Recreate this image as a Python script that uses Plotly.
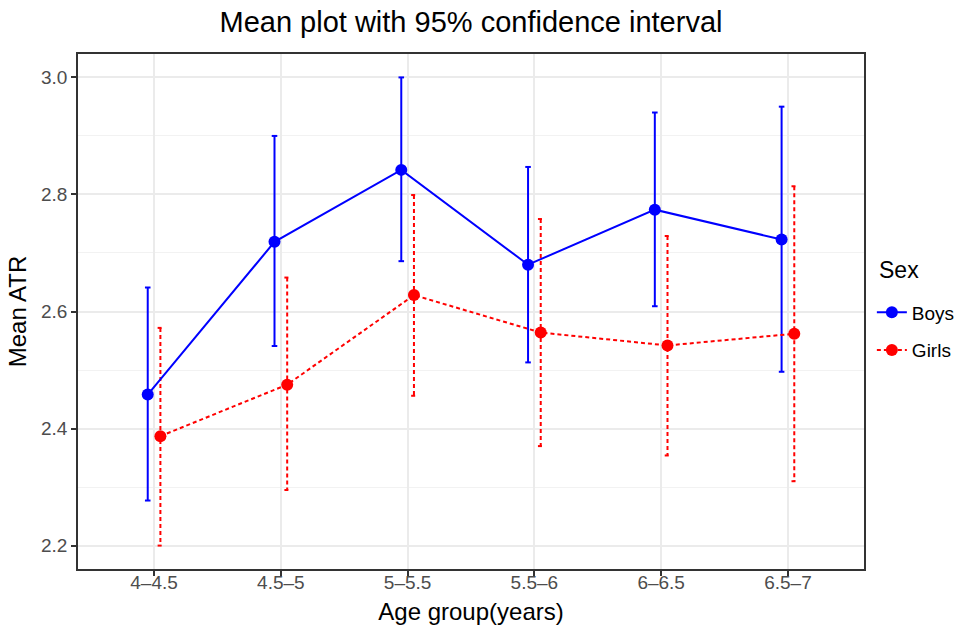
import plotly.graph_objects as go

# Age groups and per-group means with 95% confidence limits
age_groups = ["4–4.5", "4.5–5", "5–5.5", "5.5–6", "6–6.5", "6.5–7"]

boys_mean = [2.458, 2.719, 2.842, 2.680, 2.774, 2.723]
boys_lower = [2.277, 2.541, 2.686, 2.513, 2.609, 2.497]
boys_upper = [2.641, 2.900, 3.000, 2.847, 2.940, 2.950]

girls_mean = [2.387, 2.475, 2.628, 2.564, 2.542, 2.562]
girls_lower = [2.200, 2.295, 2.456, 2.370, 2.354, 2.310]
girls_upper = [2.572, 2.658, 2.799, 2.758, 2.729, 2.814]

FONT = "Liberation Sans, Arial, sans-serif"
BLUE = "#0000FF"
RED = "#FF0000"
DODGE = 0.05     # horizontal offset of each sex within a group
CAP = 0.022      # half-width of the error bar caps (x units)

pos = list(range(len(age_groups)))
boys_x = [p - DODGE for p in pos]
girls_x = [p + DODGE for p in pos]


def interval_segments(xs, lo, hi):
    """Vertical CI lines plus caps, separated by None gaps."""
    sx, sy = [], []
    for x, a, b in zip(xs, lo, hi):
        sx += [x - CAP, x + CAP, None, x, x, None, x - CAP, x + CAP, None]
        sy += [b, b, None, b, a, None, a, a, None]
    return sx, sy


fig = go.Figure()

# confidence intervals
bx, by = interval_segments(boys_x, boys_lower, boys_upper)
fig.add_trace(go.Scatter(x=bx, y=by, mode="lines", showlegend=False,
                         hoverinfo="skip",
                         line=dict(color=BLUE, width=2)))
gx, gy = interval_segments(girls_x, girls_lower, girls_upper)
fig.add_trace(go.Scatter(x=gx, y=gy, mode="lines", showlegend=False,
                         hoverinfo="skip",
                         line=dict(color=RED, width=2, dash="4px,3px")))

# mean lines and points
fig.add_trace(go.Scatter(x=boys_x, y=boys_mean, mode="lines+markers",
                         name="Boys", legendgroup="boys",
                         line=dict(color=BLUE, width=2),
                         marker=dict(color=BLUE, size=12)))
fig.add_trace(go.Scatter(x=girls_x, y=girls_mean, mode="lines+markers",
                         name="Girls", legendgroup="girls",
                         line=dict(color=RED, width=2, dash="4px,3px"),
                         marker=dict(color=RED, size=12)))

lo = min(boys_lower + girls_lower)
hi = max(boys_upper + girls_upper)
pad = 0.05 * (hi - lo)

fig.update_layout(
    width=972, height=627,
    margin=dict(l=78, r=106, t=54, b=58),
    paper_bgcolor="white", plot_bgcolor="white",
    font=dict(family=FONT, color="black"),
    title=dict(text="Mean plot with 95% confidence interval",
               x=0.5, xref="paper", xanchor="center",
               y=1 - 22 / 627, yref="container", yanchor="middle",
               font=dict(size=29, color="black", family=FONT)),
    legend=dict(font=dict(size=19, family=FONT),
                x=1.01, xanchor="left", y=0.535, yanchor="top",
                tracegroupgap=10, itemwidth=30,
                bgcolor="rgba(0,0,0,0)"),
    showlegend=True,
    annotations=[dict(text="Sex", xref="paper", yref="paper",
                      x=1.0165, y=(569 - 270) / 515,
                      xanchor="left", yanchor="middle", showarrow=False,
                      font=dict(size=23, color="black", family=FONT))],
)

fig.update_xaxes(
    range=[-0.6, len(age_groups) - 0.4],
    tickmode="array", tickvals=pos, ticktext=age_groups,
    tickfont=dict(size=19, color="#4D4D4D", family=FONT),
    ticks="outside", ticklen=5, tickwidth=1.5, tickcolor="#333333",
    ticklabelstandoff=-10,
    showgrid=True, gridcolor="#EBEBEB", gridwidth=1.5,
    showline=True, linecolor="#333333", linewidth=1.5, mirror=True,
    zeroline=False, automargin=False,
    title=dict(text="Age group(years)", standoff=12,
               font=dict(size=24, color="black", family=FONT)),
)

fig.update_yaxes(
    range=[lo - pad, hi + pad],
    tickmode="linear", tick0=2.2, dtick=0.2, tickformat=".1f",
    tickfont=dict(size=19, color="#4D4D4D", family=FONT),
    ticks="outside", ticklen=5, tickwidth=1.5, tickcolor="#333333",
    showgrid=True, gridcolor="#EBEBEB", gridwidth=1.5,
    minor=dict(dtick=0.1, tick0=2.1, showgrid=True,
               gridcolor="#F2F2F2", gridwidth=1),
    showline=True, linecolor="#333333", linewidth=1.5, mirror=True,
    zeroline=False, automargin=False,
    title=dict(text="Mean ATR", standoff=8,
               font=dict(size=24, color="black", family=FONT)),
)

fig.write_html("out.html")
